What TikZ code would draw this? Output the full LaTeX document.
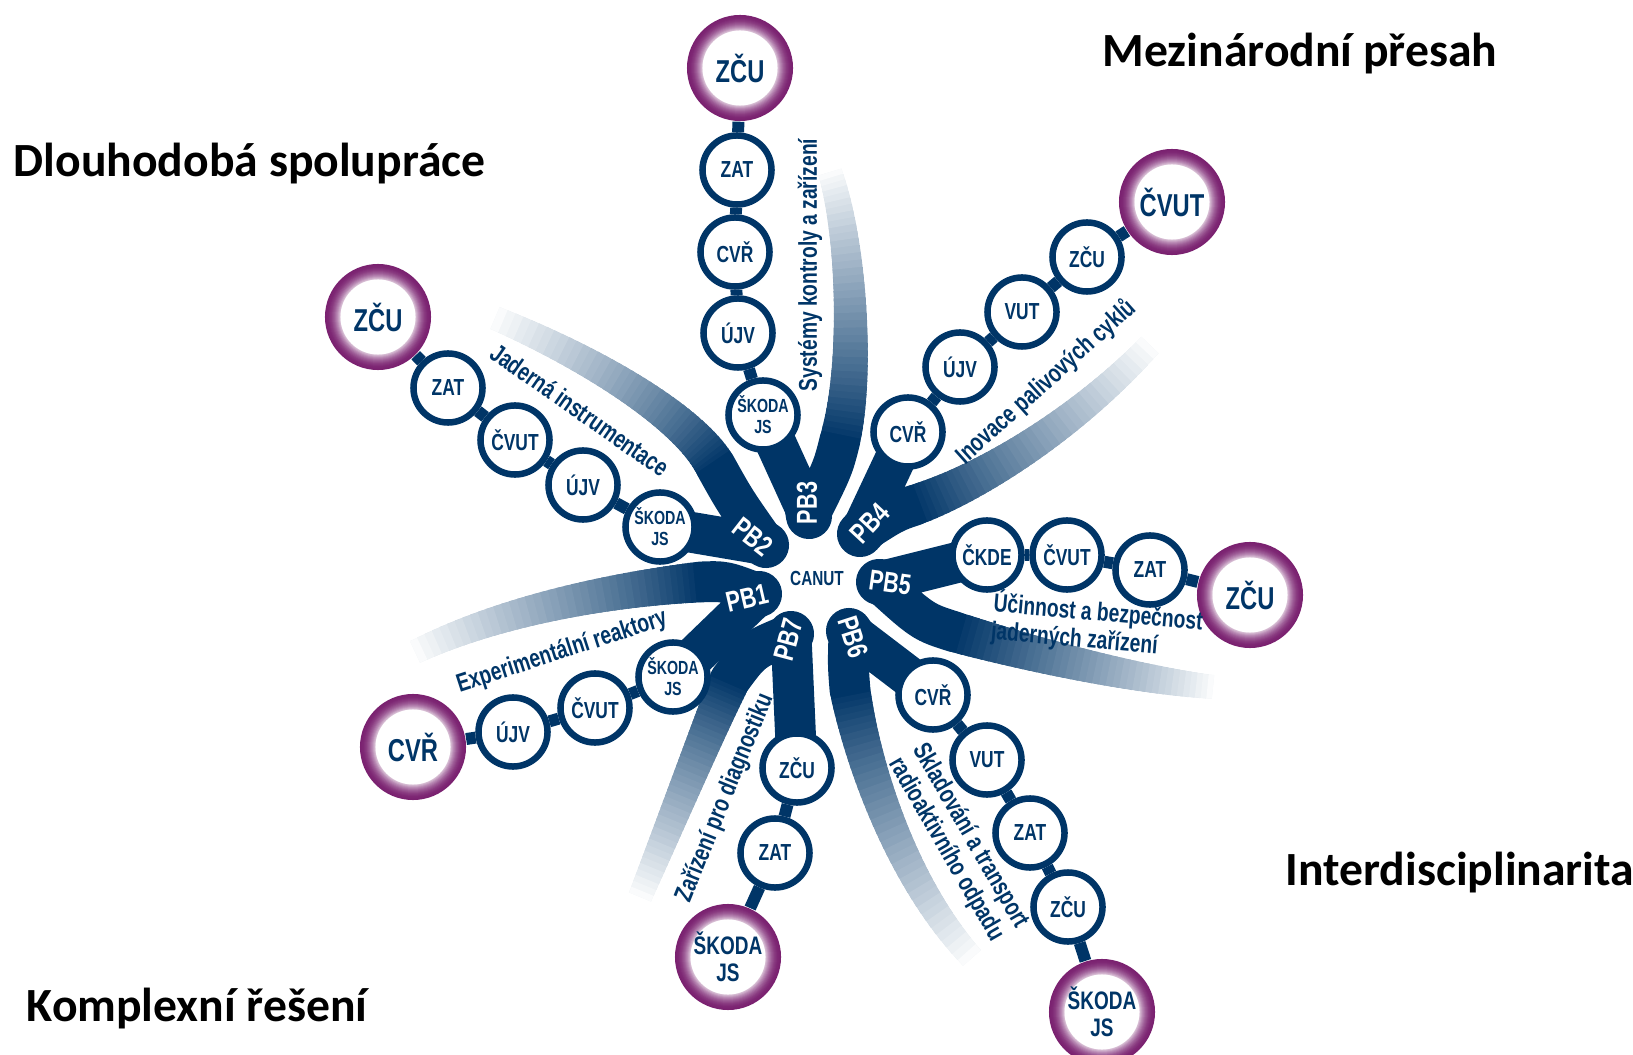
\documentclass[tikz,border=0pt]{standalone}
\usepackage{fontspec}
\setmainfont{Carlito}
\newfontfamily\condfont[FakeStretch=0.75]{Liberation Sans}
\usetikzlibrary{backgrounds}

\definecolor{canutblue}{RGB}{0,53,103}
\definecolor{canutpurple}{RGB}{122,33,112}

% fading band: start, control, control, end
\def\gradband(#1)(#2)(#3)(#4){%
	\foreach \k in {0,...,40}
		\path (#1) .. controls (#2) and (#3) .. (#4) coordinate[pos=\k/40] (g\k);
	\foreach \k [evaluate=\k as \m using {int(min(\k+2,40))},
	             evaluate=\k as \c using {int(100-2.5*\k)},
	             evaluate=\k as \w using {11.4-0.12*\k}] in {0,...,39}
		\draw[line width=\w, draw=canutblue!\c!white] (g\k) -- (g\m);
}

\tikzset{
	unit/.style={circle, draw=canutblue, line width=1.85pt, fill=white, minimum size=0.69cm, inner sep=0pt, align=center, text=canutblue, font=\condfont\bfseries\fontsize{6.6}{7}\selectfont},
	twoline/.style={font=\condfont\bfseries\fontsize{5.4}{6}\selectfont},
	lead/.style={circle, minimum size=1.06cm, inner sep=0pt, align=center, fill=canutpurple, text=canutblue, font=\condfont\bfseries\fontsize{9}{9}\selectfont,
		path picture={
			\foreach \k [evaluate=\k as \c using {int(100-\k*\k/3)}] in {1,...,15}
				\fill[canutpurple!\c!white] (path picture bounding box.center) circle[radius=0.53cm-\k*0.01cm];
			\fill[white] (path picture bounding box.center) circle[radius=0.375cm];
		}},
	twolead/.style={font=\condfont\bfseries\fontsize{7.2}{7.6}\selectfont},
	link/.style={draw=canutblue, line width=3.4pt},
	petal/.style={draw=canutblue, line width=11.6pt, line cap=round, line join=round},
	head/.style={draw=canutblue, line width=13.1pt, line cap=round},
	pblabel/.style={text=white, inner sep=0pt, font=\condfont\bfseries\fontsize{8.2}{9}\selectfont},
	hub/.style={text=canutblue, inner sep=0pt, font=\condfont\bfseries\fontsize{5.8}{6}\selectfont},
	topic/.style={text=canutblue, inner sep=0pt, align=left, font=\condfont\bfseries\fontsize{7.3}{6.6}\selectfont},
	corner/.style={anchor=base west, inner sep=0pt, font=\bfseries\fontsize{13.55}{15}\selectfont}
}

\begin{document}
\begin{tikzpicture}[x=0.01cm, y=-0.01cm]
		%%%%% START %%%%%
		\useasboundingbox (0,0) rectangle (1633,1055);
		
		% PB1
		\node[lead] (p1d) at (413,747) {CVŘ};
		\node[unit] (p1c) at (513,732) {ÚJV};
		\node[unit] (p1b) at (595,708) {ČVUT};
		\node[unit, twoline] (p1a) at (673,677) {ŠKODA\\JS};
		
		% PB2
		\node[lead] (p2e) at (378,317) {ZČU};
		\node[unit] (p2d) at (448,388) {ZAT};
		\node[unit] (p2c) at (515,440) {ČVUT};
		\node[unit] (p2b) at (583,485) {ÚJV};
		\node[unit, twoline] (p2a) at (660,527) {ŠKODA\\JS};
		
		% PB3
		\node[lead] (p3e) at (740,68) {ZČU};
		\node[unit] (p3d) at (737,170) {ZAT};
		\node[unit] (p3c) at (735,252) {CVŘ};
		\node[unit] (p3b) at (738,333) {ÚJV};
		\node[unit, twoline] (p3a) at (763,415) {ŠKODA\\JS};
		
		% PB4
		\node[lead] (p4e) at (1172,202) {ČVUT};
		\node[unit] (p4d) at (1087,257) {ZČU};
		\node[unit] (p4c) at (1022,312) {VUT};
		\node[unit] (p4b) at (960,367) {ÚJV};
		\node[unit] (p4a) at (908,432) {CVŘ};
		
		% PB5
		\node[unit] (p5a) at (987,555) {ČKDE};
		\node[unit] (p5b) at (1067,555) {ČVUT};
		\node[unit] (p5c) at (1150,570) {ZAT};
		\node[lead] (p5d) at (1250,595) {ZČU};
		
		% PB6
		\node[unit] (p6a) at (933,695) {CVŘ};
		\node[unit] (p6b) at (987,760) {VUT};
		\node[unit] (p6c) at (1030,833) {ZAT};
		\node[unit] (p6d) at (1068,907) {ZČU};
		\node[lead, twolead] (p6e) at (1102,1012) {ŠKODA\\JS};
		
		% PB7
		\node[unit] (p7a) at (797,768) {ZČU};
		\node[unit] (p7b) at (775,853) {ZAT};
		\node[lead, twolead] (p7c) at (728,957) {ŠKODA\\JS};
		
		\node[hub] (canut) at (817,578) {CANUT};
		
		% petal tips
		\coordinate (v1) at (759,594);
		\coordinate (v2) at (766,545);
		\coordinate (v3) at (809,516);
		\coordinate (v4) at (860,534);
		\coordinate (v5) at (879,582);
		\coordinate (v6) at (849,631);
		\coordinate (v7) at (791,634);
		
		\node[pblabel, rotate=13] (pb1) at (747,598) {PB1};
		\node[pblabel, rotate=-38] (pb2) at (753,537) {PB2};
		\node[pblabel, rotate=90] (pb3) at (807,503) {PB3};
		\node[pblabel, rotate=47] (pb4) at (870,523) {PB4};
		\node[pblabel, rotate=-8] (pb5) at (890,583) {PB5};
		\node[pblabel, rotate=-72] (pb6) at (853,637) {PB6};
		\node[pblabel, rotate=75] (pb7) at (788,640) {PB7};
		
		\node[topic, rotate=18] (t1) at (562,652) {Experimentální reaktory};
		\node[topic, rotate=-35] (t2) at (580,410) {Jaderná instrumentace};
		\node[topic, rotate=90] (t3) at (810,265) {Systémy kontroly a zařízení};
		\node[topic, rotate=42] (t4) at (1046,382) {Inovace palivových cyklů};
		\node[topic, rotate=-5] (t5) at (1097,626) {Účinnost a bezpečnost\\jaderných zařízení};
		\node[topic, rotate=-60] (t6) at (958,843) {Skladování a transport\\radioaktivního odpadu};
		\node[topic, rotate=68] (t7) at (725,798) {Zařízení pro diagnostiku};
		
		\node[corner] (c1) at (13,177) {Dlouhodobá spolupráce};
		\node[corner] (c2) at (1102,67) {Mezinárodní přesah};
		\node[corner] (c3) at (1285,885) {Interdisciplinarita};
		\node[corner] (c4) at (26,1021) {Komplexní řešení};
		
		\begin{pgfonlayer}{background}
			\draw[link] (p1a) -- (p1b) (p1b) -- (p1c) (p1c) -- (p1d);
			\draw[link] (p2a) -- (p2b) (p2b) -- (p2c) (p2c) -- (p2d) (p2d) -- (p2e);
			\draw[link] (p3a) -- (p3b) (p3b) -- (p3c) (p3c) -- (p3d) (p3d) -- (p3e);
			\draw[link] (p4a) -- (p4b) (p4b) -- (p4c) (p4c) -- (p4d) (p4d) -- (p4e);
			\draw[link] (p5a) -- (p5b) (p5b) -- (p5c) (p5c) -- (p5d);
			\draw[link] (p6a) -- (p6b) (p6b) -- (p6c) (p6c) -- (p6d) (p6d) -- (p6e);
			\draw[link] (p7a) -- (p7b) (p7b) -- (p7c);
			
			\draw[head] (v1) -- (pb1.center);
			\draw[petal] (p1a.center) -- (v1) .. controls (725,581) .. (700,582);
			\gradband(700,582)(630,588)(510,606)(415,652)
			
			\draw[head] (v2) -- (pb2.center);
			\draw[petal] (p2a.center) -- (v2) .. controls (735,501) .. (715,465);
			\gradband(715,465)(690,420)(600,362)(495,318)
			
			\draw[head] (v3) -- (pb3.center);
			\draw[petal] (p3a.center) -- (v3) .. controls (833,468) .. (840,440);
			\gradband(840,440)(858,370)(852,240)(830,172)
			
			\draw[head] (v4) -- (pb4.center);
			\draw[petal] (p4a.center) -- (v4) .. controls (894,512) .. (915,505);
			\gradband(915,505)(985,481)(1080,420)(1150,345)
			
			\draw[head] (v5) -- (pb5.center);
			\draw[petal] (p5a.center) -- (v5) .. controls (923,622) .. (955,632);
			\gradband(955,632)(1040,657)(1140,680)(1213,687)
			
			\draw[head] (v6) -- (pb6.center);
			\draw[petal] (p6a.center) -- (v6) .. controls (848,665) .. (850,690);
			\gradband(850,690)(862,760)(900,880)(972,958)
			
			\draw[head] (v7) -- (pb7.center);
			\draw[petal] (p7a.center) -- (v7) .. controls (752,650) .. (730,680);
			\gradband(730,680)(708,730)(672,820)(640,897)
		\end{pgfonlayer}
		
		%%%%% END %%%%%
\end{tikzpicture}
\end{document}
